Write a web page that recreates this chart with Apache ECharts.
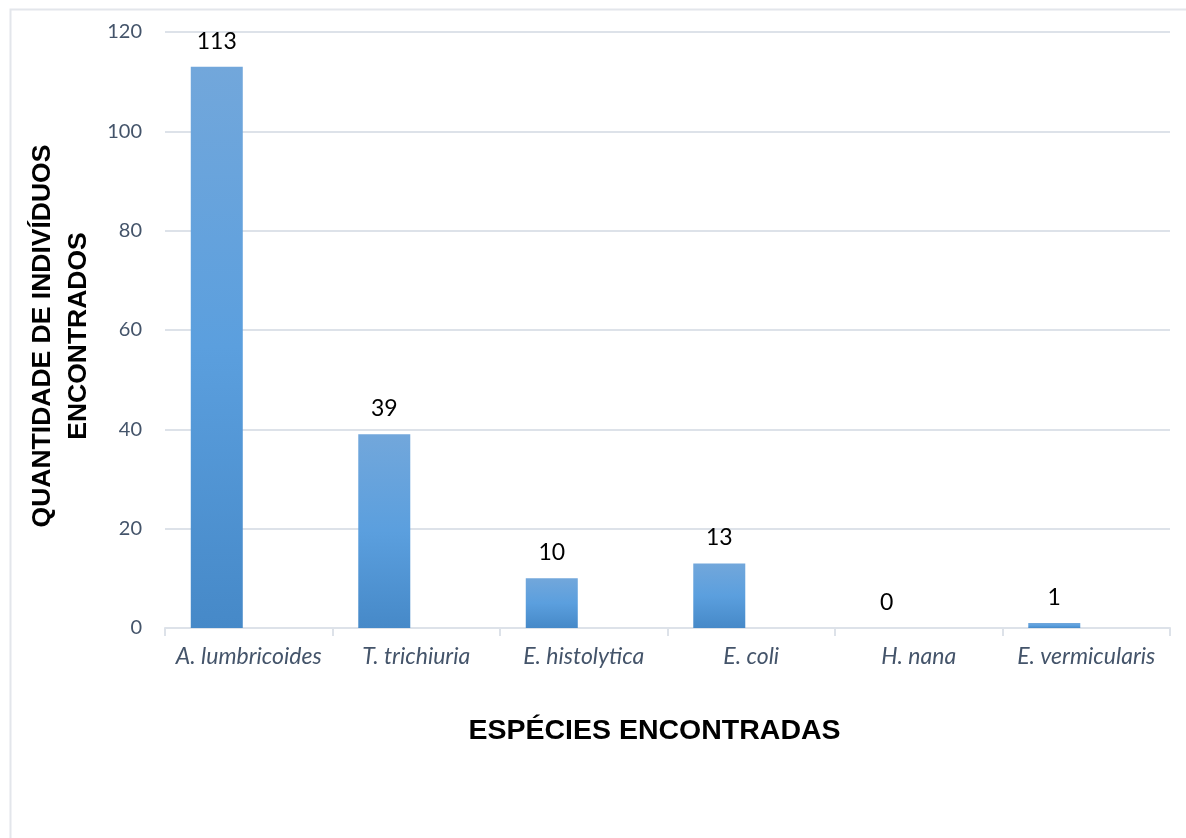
<!DOCTYPE html>
<html>
<head>
<meta charset="utf-8">
<script src="https://cdn.jsdelivr.net/npm/echarts@6/dist/echarts.min.js"></script>
<style>
  html, body { margin: 0; padding: 0; background: #fff; }
  #chart { width: 1186px; height: 838px; }
</style>
</head>
<body>
<div id="chart"></div>
<script>
// Species found and number of individuals per species
const species = ['A. lumbricoides', 'T. trichiuria', 'E. histolytica', 'E. coli', 'H. nana', 'E. vermicularis'];
const counts = [113, 39, 10, 13, 0, 1];
const yTicks = { min: 0, max: 120, interval: 20 };

const chart = echarts.init(document.getElementById('chart'));

const labelFont = 'Lato, "Open Sans", sans-serif';
const titleFont = '"Liberation Sans", Arial, sans-serif';
const axisTextColor = '#44546a';
const lineColor = '#dde2e9';

chart.setOption({
  backgroundColor: '#ffffff',
  animation: false,
  graphic: [{
    type: 'rect',
    left: 8, top: 7,
    shape: { width: 1200, height: 900 },
    style: { fill: 'none', stroke: '#e3e6eb', lineWidth: 2 },
    z: -1
  }],
  grid: { left: 165, right: 16, top: 32, bottom: 210 },
  xAxis: {
    type: 'category',
    data: species,
    boundaryGap: true,
    name: 'ESPÉCIES ENCONTRADAS',
    nameLocation: 'middle',
    nameGap: 89,
    nameTextStyle: { fontFamily: titleFont, fontWeight: 'bold', fontSize: 28.5, color: '#000', padding: [0, 26, 0, 0] },
    axisLine: { lineStyle: { color: lineColor, width: 2 } },
    axisTick: { show: true, alignWithLabel: false, length: 8, lineStyle: { color: lineColor, width: 2 } },
    axisLabel: { interval: 0, fontFamily: labelFont, fontStyle: 'italic', fontSize: 23, color: axisTextColor, margin: 17 }
  },
  yAxis: {
    type: 'value',
    min: yTicks.min,
    max: yTicks.max,
    interval: yTicks.interval,
    name: 'QUANTIDADE DE INDIVÍDUOS\nENCONTRADOS',
    nameLocation: 'middle',
    nameGap: 67,
    nameTextStyle: { fontFamily: titleFont, fontWeight: 'bold', fontSize: 26.5, color: '#000', lineHeight: 36, padding: [0, 12, 0, 0] },
    axisLine: { show: false },
    axisTick: { show: false },
    splitLine: { lineStyle: { color: lineColor, width: 2 } },
    axisLabel: { fontFamily: labelFont, fontSize: 20, color: axisTextColor, margin: 23 }
  },
  series: [{
    type: 'bar',
    data: counts,
    barWidth: 52,
    barGap: '23%',
    itemStyle: {
      color: new echarts.graphic.LinearGradient(0, 0, 0, 1, [
        { offset: 0, color: '#72a7db' },
        { offset: 0.5, color: '#5b9fde' },
        { offset: 1, color: '#4689c8' }
      ])
    },
    label: {
      show: true,
      position: 'top',
      distance: 14,
      fontFamily: labelFont,
      fontSize: 23,
      color: '#000'
    }
  }, {
    // empty second slot: keeps each bar in the left half of its category
    type: 'bar',
    data: species.map(() => null),
    barWidth: 52,
    silent: true
  }]
});
</script>
</body>
</html>
